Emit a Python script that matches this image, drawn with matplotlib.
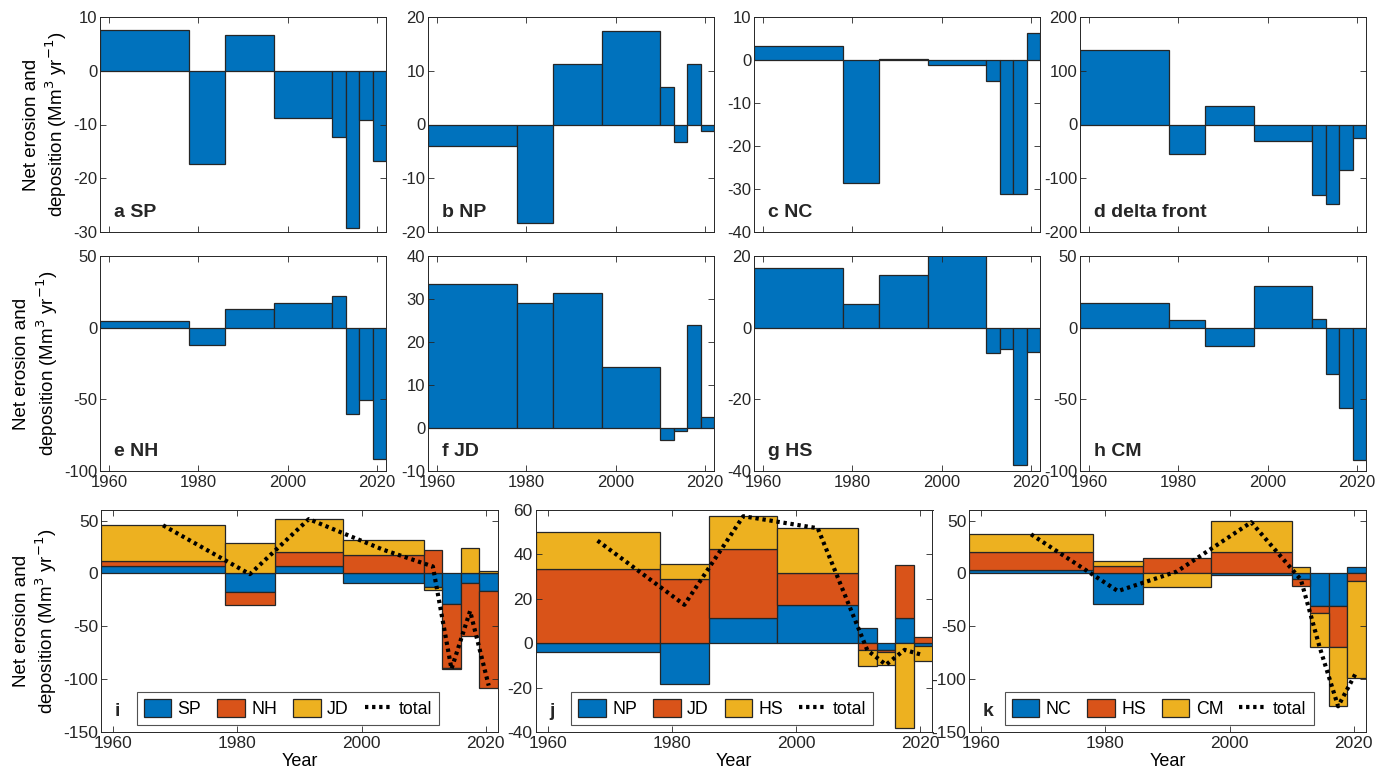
import matplotlib.pyplot as plt
import numpy as np

plt.rcParams['font.family'] = ['Liberation Sans', 'DejaVu Sans']
plt.rcParams['font.size'] = 12
plt.rcParams['axes.unicode_minus'] = False
plt.rcParams['axes.edgecolor'] = '#262626'
plt.rcParams['xtick.color'] = '#262626'
plt.rcParams['ytick.color'] = '#262626'

# survey periods (bar edges) and per-period net erosion/deposition rates
edges = np.array([1958, 1978, 1986, 1997, 2010, 2013, 2016, 2019, 2022])

SP = [7.5, -17.4, 6.7, -8.8, -12.4, -29.2, -9.1, -16.8]
NP = [-4.0, -18.3, 11.2, 17.4, 6.9, -3.2, 11.2, -1.2]
NC = [3.2, -28.6, 0.2, -1.1, -4.9, -31.2, -31.2, 6.3]
DF = [138, -54, 34, -31, -131, -147, -85, -25]
NH = [4.4, -12.3, 13.3, 17.0, 21.9, -60.5, -50.5, -91.9]
JD = [33.6, 29.0, 31.4, 14.2, -2.9, -0.6, 24.0, 2.6]
HS = [16.6, 6.6, 14.6, 20.2, -7.2, -5.9, -38.2, -6.8]
CM = [17.2, 5.3, -13.0, 29.3, 6.3, -32.1, -56.3, -92.3]

single = [
    ('a SP', SP, (-30, 10), 10),
    ('b NP', NP, (-20, 20), 10),
    ('c NC', NC, (-40, 10), 10),
    ('d delta front', DF, (-200, 200), 100),
    ('e NH', NH, (-100, 50), 50),
    ('f JD', JD, (-10, 40), 10),
    ('g HS', HS, (-40, 20), 20),
    ('h CM', CM, (-100, 50), 50),
]

combined = [
    ('i', [SP, NH, JD], ['SP', 'NH', 'JD'], (-150, 60), 50),
    ('j', [NP, JD, HS], ['NP', 'JD', 'HS'], (-40, 60), 20),
    ('k', [NC, HS, CM], ['NC', 'HS', 'CM'], (-150, 60), 50),
]

colors = ['#0072BD', '#D95319', '#EDB120']
edge_col = '#262626'
ylab = 'Net erosion and\ndeposition (Mm$^3$ yr$^{-1}$)'

W, H = 1392, 780
fig = plt.figure(figsize=(W / 100, H / 100), dpi=100)


def style(ax, ylim, step):
    ax.set_xlim(edges[0], edges[-1])
    ax.set_ylim(*ylim)
    ax.set_xticks([1960, 1980, 2000, 2020])
    ax.set_yticks(np.arange(ylim[0], ylim[1] + 1e-9, step))
    ax.tick_params(direction='in', top=True, right=True, length=4, width=0.6, pad=2)
    ax.tick_params(axis='x', pad=3)
    for s in ax.spines.values():
        s.set_linewidth(0.7)


widths = np.diff(edges)
mids = edges[:-1] + widths / 2

# top two rows: one site per panel
top_left = [100, 428, 754, 1080]
row_top = [17, 256]
for i, (name, vals, ylim, step) in enumerate(single):
    r, c = divmod(i, 4)
    x0 = top_left[c]
    y0 = row_top[r]
    ax = fig.add_axes([x0 / W, 1 - (y0 + 215) / H, 286 / W, 215 / H])
    ax.bar(edges[:-1], vals, width=widths, align='edge', color=colors[0],
           edgecolor=edge_col, linewidth=0.9)
    style(ax, ylim, step)
    if r == 0:
        ax.set_xticklabels([])
    if c == 0:
        ax.set_ylabel(ylab, fontsize=13.5, labelpad=3)
    ax.text(0.05, 0.05, name, transform=ax.transAxes, fontsize=14,
            fontweight='bold', color='#262626', va='bottom', ha='left')

# bottom row: stacked contributions and their total
bot_left = [101, 535.5, 969]
for c, (tag, series, labels, ylim, step) in enumerate(combined):
    ax = fig.add_axes([bot_left[c] / W, 1 - 732 / H, 397 / W, 222 / H])
    pos = np.zeros(len(mids))
    neg = np.zeros(len(mids))
    handles = []
    for vals, col, lab in zip(series, colors, labels):
        v = np.asarray(vals, dtype=float)
        base = np.where(v >= 0, pos, neg)
        b = ax.bar(edges[:-1], v, width=widths, bottom=base, align='edge',
                   color=col, edgecolor=edge_col, linewidth=0.9, label=lab)
        handles.append(b)
        pos += np.clip(v, 0, None)
        neg += np.clip(v, None, 0)
    total = np.sum(series, axis=0)
    ln, = ax.plot(mids, total, color='k', lw=3, linestyle=(0, (0.8, 0.9)), label='total')
    handles.append(ln)
    style(ax, ylim, step)
    ax.tick_params(labelsize=12.5)
    ax.set_xlabel('Year', fontsize=13, labelpad=1)
    if c == 0:
        ax.set_ylabel(ylab, fontsize=13.5, labelpad=3)
    ax.text(0.035, 0.055, tag, transform=ax.transAxes, fontsize=14,
            fontweight='bold', color='#262626', va='bottom', ha='left')
    leg = ax.legend(handles=handles, ncol=4, loc='lower left',
                    bbox_to_anchor=(0.09, 0.03),
                    frameon=True, fancybox=False, edgecolor=edge_col,
                    handlelength=1.55, handleheight=1.2, columnspacing=0.9,
                    handletextpad=0.35, borderpad=0.4, fontsize=12.8,
                    borderaxespad=0)
    leg.get_frame().set_linewidth(0.8)

fig.savefig('out.png', dpi=100, facecolor='white')
